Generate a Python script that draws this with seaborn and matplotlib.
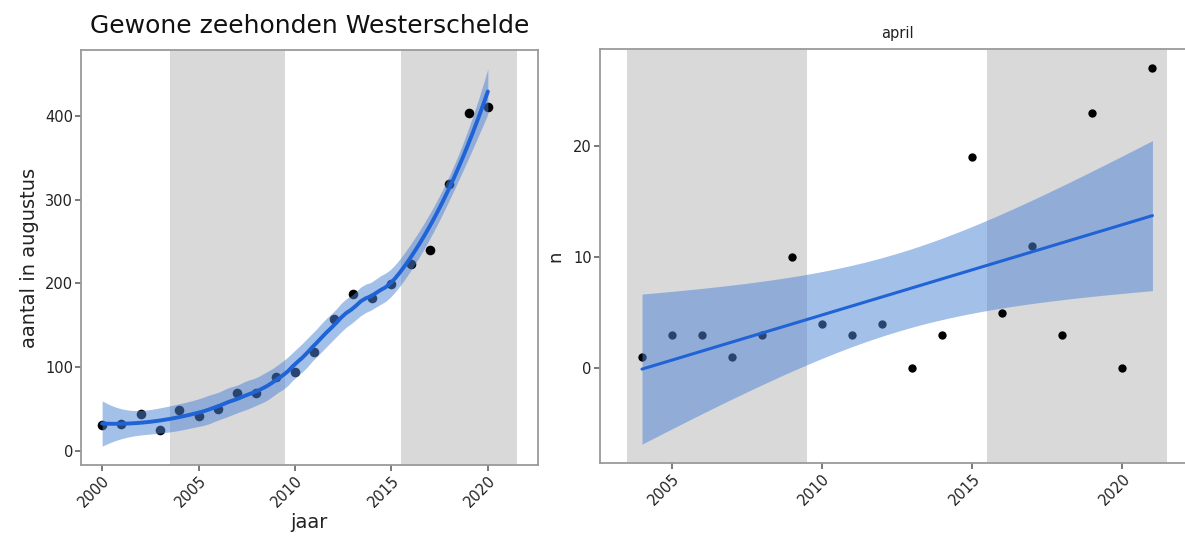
import numpy as np
import pandas as pd
import matplotlib
matplotlib.use("Agg")
import matplotlib.pyplot as plt
import seaborn as sns

# --- data -------------------------------------------------------------
aug_years = list(range(2000, 2021))
aug_counts = [31, 32, 45, 25, 49, 42, 50, 70, 70, 88, 94, 118, 158, 188,
              183, 199, 223, 240, 318, 403, 410]

apr_years = list(range(2004, 2022))
apr_counts = [1, 3, 3, 1, 3, 10, 4, 3, 4, 0, 3, 19, 5, 11, 3, 23, 0, 27]

# alternating six-year periods shown as grey bands
shade_periods = [(2003.5, 2009.5), (2015.5, 2021.5)]

left_title = "Gewone zeehonden Westerschelde"
left_xlabel = "jaar"
left_ylabel = "aantal in augustus"
right_title = "april"
right_ylabel = "n"

# --- styling ----------------------------------------------------------
sns.set_style("white")
plt.rcParams["font.family"] = ["DejaVu Sans"]

FIT_COLOR = "#1f63d6"
BAND_COLOR = "#4f86d6"
BAND_ALPHA = 0.52
SHADE_COLOR = "#d9d9d9"
FRAME_COLOR = "#9a9a9a"
LOESS_SPAN = 0.6


def t_quantile(df, z=1.959964):
    """Two-sided 95% Student t quantile (Cornish-Fisher expansion)."""
    g1 = (z ** 3 + z) / 4
    g2 = (5 * z ** 5 + 16 * z ** 3 + 3 * z) / 96
    g3 = (3 * z ** 7 + 19 * z ** 5 + 17 * z ** 3 - 15 * z) / 384
    return z + g1 / df + g2 / df ** 2 + g3 / df ** 3


def loess_weights(x, x0, span):
    """Row of the local quadratic smoother matrix evaluated at x0."""
    n = len(x)
    q = int(np.floor(n * span))
    d = np.abs(x - x0)
    h = np.sort(d)[q - 1] * 1.0001
    u = np.clip(d / h, 0, 1)
    w = (1 - u ** 3) ** 3
    X = np.column_stack([np.ones(n), x - x0, (x - x0) ** 2])
    XtW = X.T * w
    A = np.linalg.solve(XtW @ X, XtW)
    return A[0]


def loess_fit(x, y, grid, span):
    x = np.asarray(x, float)
    y = np.asarray(y, float)
    L = np.array([loess_weights(x, xi, span) for xi in x])
    resid = y - L @ y
    M = np.eye(len(x)) - L
    MtM = M.T @ M
    d1 = np.trace(MtM)
    d2 = np.trace(MtM @ MtM)
    sigma = np.sqrt(np.sum(resid ** 2) / d1)
    rows = np.array([loess_weights(x, g, span) for g in grid])
    fit = rows @ y
    se = sigma * np.sqrt(np.sum(rows ** 2, axis=1))
    t = t_quantile(d1 ** 2 / d2)
    return fit, fit - t * se, fit + t * se


def linear_fit(x, y, grid):
    x = np.asarray(x, float)
    y = np.asarray(y, float)
    n = len(x)
    xm = x.mean()
    sxx = np.sum((x - xm) ** 2)
    b = np.sum((x - xm) * (y - y.mean())) / sxx
    a = y.mean() - b * xm
    resid = y - (a + b * x)
    s = np.sqrt(np.sum(resid ** 2) / (n - 2))
    fit = a + b * grid
    se = s * np.sqrt(1 / n + (grid - xm) ** 2 / sxx)
    t = t_quantile(n - 2)
    return fit, fit - t * se, fit + t * se


def style_axes(ax, show_right=True):
    for side, sp in ax.spines.items():
        sp.set_color(FRAME_COLOR)
        sp.set_linewidth(1.3)
    if not show_right:
        ax.spines["right"].set_visible(False)
    ax.tick_params(axis="both", which="major", length=4, width=1.1,
                   color="#555555", labelcolor="#222222", labelsize=10.5,
                   left=True, bottom=True, pad=2)


fig = plt.figure(figsize=(11.85, 5.42), dpi=100)

# --- left panel: August counts with loess smoother -----------------------
ax1 = fig.add_axes([0.0687, 0.142, 0.3849, 0.7657])
df_aug = pd.DataFrame({"jaar": aug_years, "aantal": aug_counts})
grid1 = np.linspace(min(aug_years), max(aug_years), 80)
fit1, lo1, hi1 = loess_fit(df_aug["jaar"], df_aug["aantal"], grid1,
                           LOESS_SPAN)

for a, b in shade_periods:
    ax1.axvspan(a, b, color=SHADE_COLOR, lw=0, zorder=0)
sns.scatterplot(data=df_aug, x="jaar", y="aantal", ax=ax1, color="black",
                s=48, linewidth=0, zorder=2)
ax1.fill_between(grid1, lo1, hi1, color=BAND_COLOR, alpha=BAND_ALPHA,
                 lw=0, zorder=3)
sns.lineplot(x=grid1, y=fit1, ax=ax1, color=FIT_COLOR, lw=2.8, zorder=4)

lo_x = min(aug_years)
hi_x = max(b for _, b in shade_periods)
pad_x = 0.05 * (hi_x - lo_x)
ax1.set_xlim(lo_x - pad_x, hi_x + pad_x)
ymin, ymax = min(lo1.min(), min(aug_counts)), max(hi1.max(), max(aug_counts))
pad_y = 0.05 * (ymax - ymin)
ax1.set_ylim(ymin - pad_y, ymax + pad_y)
ax1.set_xticks([2000, 2005, 2010, 2015, 2020])
ax1.set_yticks([0, 100, 200, 300, 400])
style_axes(ax1)
plt.setp(ax1.get_xticklabels(), rotation=45, ha="right",
         rotation_mode="anchor")
ax1.set_xlabel(left_xlabel, fontsize=14, color="#222222", labelpad=2)
ax1.set_ylabel(left_ylabel, fontsize=14, color="#222222", labelpad=4)
ax1.set_title(left_title, fontsize=18, color="#111111", pad=12)

# --- right panel: April counts with linear fit ---------------------------
ax2 = fig.add_axes([0.5063, 0.1458, 0.5017, 0.7631])
df_apr = pd.DataFrame({"jaar": apr_years, "n": apr_counts})
grid2 = np.linspace(min(apr_years), max(apr_years), 80)
fit2, lo2, hi2 = linear_fit(df_apr["jaar"], df_apr["n"], grid2)

for a, b in shade_periods:
    ax2.axvspan(a, b, color=SHADE_COLOR, lw=0, zorder=0)
sns.scatterplot(data=df_apr, x="jaar", y="n", ax=ax2, color="black",
                s=36, linewidth=0, zorder=2)
ax2.fill_between(grid2, lo2, hi2, color=BAND_COLOR, alpha=BAND_ALPHA,
                 lw=0, zorder=3)
sns.lineplot(x=grid2, y=fit2, ax=ax2, color=FIT_COLOR, lw=2.2, zorder=4)

lo_x2 = min(a for a, _ in shade_periods)
hi_x2 = max(b for _, b in shade_periods)
pad_x2 = 0.05 * (hi_x2 - lo_x2)
ax2.set_xlim(lo_x2 - pad_x2, hi_x2 + pad_x2)
ymin2, ymax2 = min(lo2.min(), min(apr_counts)), max(hi2.max(), max(apr_counts))
pad_y2 = 0.05 * (ymax2 - ymin2)
ax2.set_ylim(ymin2 - pad_y2, ymax2 + pad_y2)
ax2.set_xticks([2005, 2010, 2015, 2020])
ax2.set_yticks([0, 10, 20])
style_axes(ax2, show_right=False)
plt.setp(ax2.get_xticklabels(), rotation=45, ha="right",
         rotation_mode="anchor")
ax2.set_xlabel("")
ax2.set_ylabel(right_ylabel, fontsize=13, color="#222222", labelpad=6)
ax2.set_title(right_title, fontsize=10.5, color="#222222", pad=8)

fig.savefig("out.png", dpi=100, facecolor="white")
